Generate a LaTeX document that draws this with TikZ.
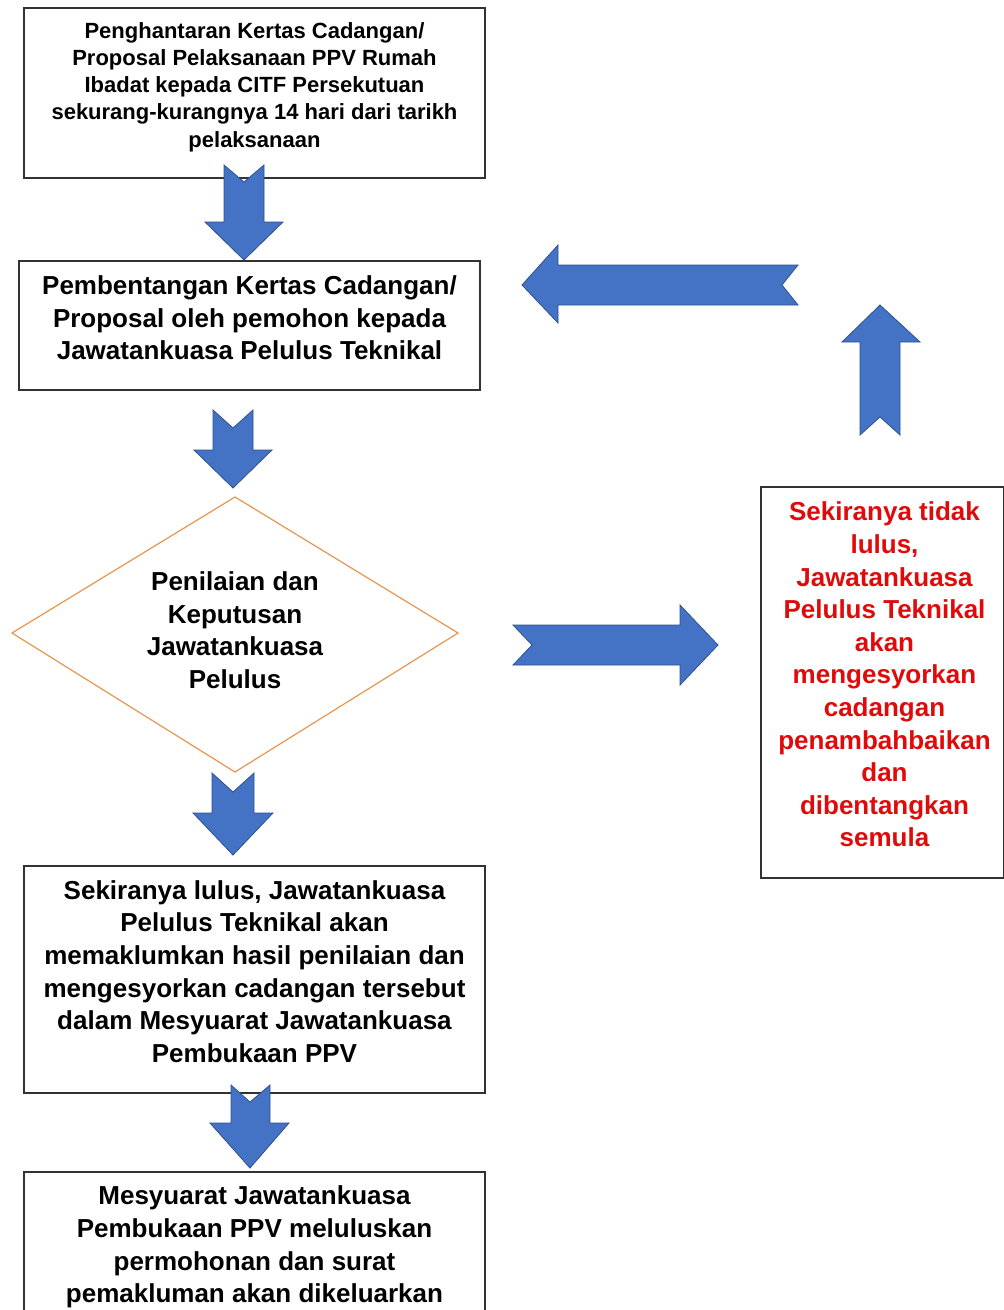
\documentclass[tikz,border=0pt]{standalone}
\usepackage{fontspec}
\setmainfont{Liberation Sans}
\definecolor{arrowblue}{RGB}{68,114,196}
\definecolor{arrowedge}{RGB}{47,82,143}
\definecolor{dorange}{RGB}{230,150,80}
\definecolor{boxline}{RGB}{50,50,50}
\definecolor{redtxt}{RGB}{225,10,10}
\begin{document}
\begin{tikzpicture}[x=1pt,y=-1pt,
  boxnode/.style={draw=boxline,line width=1.3pt,rectangle,inner sep=0pt},
  txt/.style={align=center,font=\bfseries\fontsize{26}{32.6}\selectfont,inner sep=0pt},
  smalltxt/.style={align=center,font=\bfseries\fontsize{22}{27.2}\selectfont,inner sep=0pt},
  blockarrow/.style={fill=arrowblue,draw=arrowedge,line width=0.8pt,line join=miter}]
\useasboundingbox[fill=white] (0,0) rectangle (1004,1310);

% boxes
\node[boxnode,minimum width=461pt,minimum height=170pt] (b1) at (254.5,93) {};
\node[smalltxt] (t1) at ([yshift=6pt]b1.center) {Penghantaran Kertas Cadangan/\\Proposal Pelaksanaan PPV Rumah\\Ibadat kepada CITF Persekutuan\\sekurang-kurangnya 14 hari dari tarikh\\pelaksanaan};

\node[boxnode,minimum width=461pt,minimum height=129pt] (b2) at (249.5,325.5) {};
\node[txt] (t2) at ([yshift=7.5pt]b2.center) {Pembentangan Kertas Cadangan/\\Proposal oleh pemohon kepada\\Jawatankuasa Pelulus Teknikal};

% diamond
\coordinate (dl) at (12,633);
\coordinate (dt) at (235,497);
\coordinate (dr) at (458,633);
\coordinate (db) at (235,772);
\draw[dorange,line width=1.2pt,line join=miter] (dl) -- (dt) -- (dr) -- (db) -- cycle;
\node[txt] (t3) at (235,630) {Penilaian dan\\Keputusan\\Jawatankuasa\\Pelulus};

\node[boxnode,minimum width=243pt,minimum height=391pt] (b3) at (882.5,682.5) {};
\node[txt,text=redtxt] (t4) at ([xshift=2pt,yshift=8pt]b3.center) {Sekiranya tidak\\lulus,\\Jawatankuasa\\Pelulus Teknikal\\akan\\mengesyorkan\\cadangan\\penambahbaikan\\dan\\dibentangkan\\semula};

\node[boxnode,minimum width=461pt,minimum height=227pt] (b4) at (254.5,979.5) {};
\node[txt] (t5) at ([yshift=8pt]b4.center) {Sekiranya lulus, Jawatankuasa\\Pelulus Teknikal akan\\memaklumkan hasil penilaian dan\\mengesyorkan cadangan tersebut\\dalam Mesyuarat Jawatankuasa\\Pembukaan PPV};

\node[boxnode,minimum width=461pt,minimum height=150pt] (b5) at (254.5,1247) {};
\node[txt] (t6) at (254.5,1247) {Mesyuarat Jawatankuasa\\Pembukaan PPV meluluskan\\permohonan dan surat\\pemakluman akan dikeluarkan};

% block arrows (notched)
% down 1
\draw[blockarrow] (224,165) -- (244,182) -- (264,165) -- (264,222) -- (283,222) -- (244,260) -- (205,222) -- (224,222) -- cycle;
% down 2
\draw[blockarrow] (213,410) -- (233,428) -- (253,410) -- (253,450) -- (272,450) -- (233,488) -- (194,450) -- (213,450) -- cycle;
% down 3
\draw[blockarrow] (212,773) -- (233,792) -- (254,773) -- (254,813) -- (273,813) -- (233,855) -- (193,813) -- (212,813) -- cycle;
% down 4
\draw[blockarrow] (231,1085) -- (250,1102) -- (270,1085) -- (270,1123) -- (289,1123) -- (250,1168) -- (210,1123) -- (231,1123) -- cycle;
% left
\draw[blockarrow] (798,265) -- (782,285) -- (798,305) -- (558,305) -- (558,323) -- (522,285) -- (558,245) -- (558,265) -- cycle;
% up
\draw[blockarrow] (860,435) -- (880,417) -- (900,435) -- (900,342) -- (920,342) -- (880,305) -- (842,342) -- (860,342) -- cycle;
% right
\draw[blockarrow] (513,625) -- (532,645) -- (513,665) -- (680,665) -- (680,685) -- (718,645) -- (680,605) -- (680,625) -- cycle;
\end{tikzpicture}
\end{document}
